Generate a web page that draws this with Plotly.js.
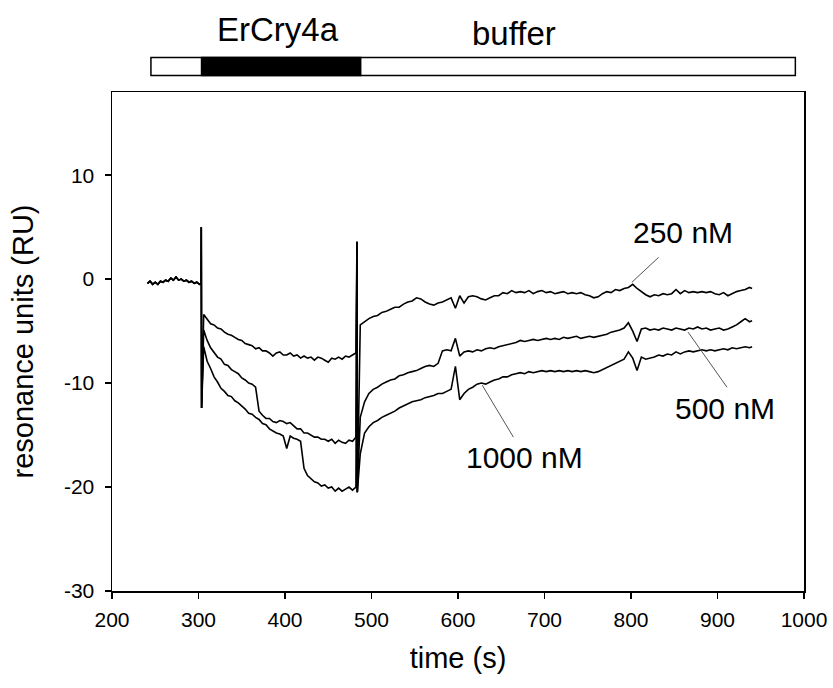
<!DOCTYPE html>
<html>
<head>
<meta charset="utf-8">
<script src="https://cdn.plot.ly/plotly-3.0.1.min.js"></script>
<style>html,body{margin:0;padding:0;background:#fff}#chart{width:833px;height:688px}</style>
</head>
<body>
<div id="chart"></div>
<script>
// ---- baseline before injection (shared by all three runs) ----
const tBase = [241,244,247,250,253,256,259,262,265,268,271,274,277,280,283,286,289,292,295,298,301,303];
const ruBase = [-0.4,-0.2,-0.5,-0.3,-0.5,-0.2,-0.3,-0.1,-0.2,0.1,-0.1,0.2,-0.1,0.0,-0.2,-0.1,-0.3,-0.2,-0.4,-0.3,-0.5,-0.4];

// injection artefact (start of ErCry4a) and rinse artefact (start of buffer)
const tInject = [303.2, 303.6];
const ruInject = [5.0, -12.4];
const tRinse = [483.2, 483.6];
const ruRinse = [3.6, -20.5];

// ---- association phase ----
const tAssoc = [306,310,314,318,322,326,330,334,338,342,346,350,354,358,362,366,370,374,378,382,386,390,394,398,402,406,410,414,418,422,426,430,434,438,442,446,450,454,458,462,466,470,474,478,482];
const ru250Assoc = [-3.4,-3.9,-4.3,-4.4,-4.7,-4.8,-5.1,-5.3,-5.4,-5.6,-5.8,-5.9,-6.2,-6.3,-6.4,-6.7,-6.6,-6.9,-6.9,-7.1,-7.4,-7.1,-7.0,-7.3,-7.3,-7.1,-7.4,-7.3,-7.6,-7.4,-7.6,-7.5,-7.8,-7.5,-7.6,-7.8,-8.0,-7.6,-7.7,-7.5,-7.7,-7.4,-7.5,-7.3,-7.1];
const ru500Assoc = [-4.9,-5.9,-6.6,-7.1,-7.5,-7.7,-8.2,-8.3,-8.7,-8.9,-9.1,-9.5,-9.7,-10.0,-10.1,-10.4,-12.7,-13.1,-13.4,-13.4,-13.7,-13.8,-13.6,-13.7,-13.9,-13.8,-14.1,-14.4,-14.4,-14.8,-14.8,-15.0,-15.2,-15.2,-15.4,-15.4,-15.6,-15.4,-15.8,-15.5,-15.7,-15.8,-15.5,-15.6,-15.2];
const ru1000Assoc = [-6.5,-7.9,-8.6,-9.4,-9.9,-10.5,-10.8,-11.2,-11.3,-11.7,-11.9,-12.2,-12.5,-12.9,-13.0,-13.3,-13.5,-13.9,-14.0,-14.4,-14.6,-14.8,-14.9,-15.1,-16.3,-15.1,-15.3,-15.4,-15.6,-18.2,-18.9,-19.2,-19.5,-19.6,-19.9,-19.8,-20.1,-20.0,-20.4,-20.1,-20.4,-20.2,-20.0,-20.3,-20.0];

// ---- dissociation phase (buffer) ----
const tDiss = [487,492,497,502,507,512,517,522,527,532,537,542,547,552,557,562,567,572,577,582,587,592,597,602,607,612,617,622,627,632,637,642,647,652,657,662,667,672,677,682,687,692,697,702,707,712,717,722,727,732,737,742,747,752,757,762,767,772,777,782,787,792,797,802,807,812,817,822,827,832,837,842,847,852,857,862,867,872,877,882,887,892,897,902,907,912,917,922,927,932,937,940];
const ru250Diss = [-4.4,-4.1,-3.8,-3.6,-3.5,-3.2,-3.1,-2.9,-2.7,-2.7,-2.4,-2.2,-2.1,-1.8,-1.9,-2.2,-2.4,-2.5,-2.3,-2.2,-2.0,-1.8,-2.8,-1.6,-2.3,-1.7,-1.6,-1.7,-1.9,-2.0,-1.8,-1.6,-1.6,-1.3,-1.4,-1.1,-1.3,-1.2,-1.3,-1.1,-1.4,-1.2,-1.1,-1.3,-1.2,-1.4,-1.3,-1.2,-1.4,-1.3,-1.4,-1.3,-1.5,-1.6,-1.8,-1.7,-1.4,-1.2,-1.3,-1.0,-1.1,-0.9,-0.8,-0.5,-0.9,-1.2,-1.5,-1.7,-1.5,-1.6,-1.4,-1.5,-1.4,-1.0,-1.4,-1.1,-1.3,-1.2,-1.3,-1.2,-1.3,-1.2,-1.4,-1.5,-1.3,-1.6,-1.4,-1.2,-1.1,-1.0,-0.8,-0.9];
const ru500Diss = [-13.3,-11.8,-11.0,-10.6,-10.4,-10.1,-9.9,-9.7,-9.6,-9.3,-9.2,-9.0,-8.9,-8.8,-8.6,-8.4,-8.3,-8.4,-8.1,-6.9,-6.8,-6.9,-5.7,-7.4,-7.0,-6.9,-7.0,-6.8,-6.9,-6.7,-6.6,-6.7,-6.5,-6.4,-6.3,-6.2,-6.1,-5.9,-6.0,-5.9,-5.8,-5.9,-5.8,-5.7,-5.8,-5.7,-5.8,-5.6,-5.7,-5.6,-5.5,-5.7,-5.6,-5.5,-5.6,-5.5,-5.4,-5.3,-5.1,-5.0,-4.9,-4.7,-4.2,-5.0,-6.0,-4.8,-4.7,-4.9,-4.8,-4.9,-4.7,-4.8,-4.9,-4.7,-4.8,-4.9,-4.7,-4.8,-4.6,-4.8,-4.7,-4.9,-4.8,-4.7,-4.9,-4.8,-4.6,-4.4,-4.1,-3.8,-4.1,-4.0];
const ru1000Diss = [-16.8,-14.8,-14.2,-13.8,-13.6,-13.3,-13.1,-12.9,-12.7,-12.4,-12.2,-12.0,-11.8,-11.7,-11.6,-11.4,-11.3,-11.2,-11.0,-11.0,-10.8,-10.6,-8.4,-11.6,-11.0,-10.6,-10.4,-10.1,-10.0,-10.1,-9.9,-9.7,-9.6,-9.4,-9.4,-9.2,-9.1,-9.0,-9.1,-8.9,-9.0,-8.9,-8.8,-8.9,-8.8,-8.9,-8.8,-8.9,-8.8,-8.9,-8.8,-8.9,-8.8,-8.9,-9.0,-8.9,-8.7,-8.5,-8.3,-8.1,-7.9,-7.7,-7.0,-7.6,-8.8,-7.5,-7.7,-7.6,-7.5,-7.3,-7.4,-7.2,-7.3,-7.0,-7.2,-7.0,-6.9,-7.0,-6.9,-6.8,-6.9,-6.8,-6.9,-6.8,-6.7,-6.8,-6.6,-6.7,-6.6,-6.5,-6.6,-6.5];

// ---- axis ticks ----
const xTicks = [200,300,400,500,600,700,800,900,1000];
const yTicks = [-30,-20,-10,0,10];

// ---- phase bar (time boundaries) ----
const phaseNames = ['ErCry4a', 'buffer'];
const runStart = 245, injStart = 303.5, injEnd = 487.5, runEnd = 990;

// ---- curve labels ----
const concLabels = ['250 nM', '500 nM', '1000 nM'];

const FONT = 'Arial, "Liberation Sans", sans-serif';

function series(assoc, diss) {
  return {
    x: tBase.concat(tInject, tAssoc, tRinse, tDiss),
    y: ruBase.concat(ruInject, assoc, ruRinse, diss),
    type: 'scatter', mode: 'lines',
    line: {color: '#000', width: 1.6},
    hoverinfo: 'skip', showlegend: false
  };
}

const data = [
  series(ru250Assoc, ru250Diss),
  series(ru500Assoc, ru500Diss),
  series(ru1000Assoc, ru1000Diss)
];

// label text position and the curve point its leader line touches
const labelPos = [
  {tx: 860, ty: 4.5, lx0: 832, ly0: 2.1, lx1: 801, ly1: -0.3},
  {tx: 909, ty: -12.4, lx0: 911, ly0: -10.4, lx1: 866, ly1: -5.1},
  {tx: 677, ty: -17.2, lx0: 664, ly0: -15.2, lx1: 628, ly1: -10.2}
];

const annotations = concLabels.map((t, i) => ({
  text: t, x: labelPos[i].tx, y: labelPos[i].ty, xref: 'x', yref: 'y',
  showarrow: false, font: {family: FONT, size: 30, color: '#000'},
  xanchor: 'center', yanchor: 'middle'
}));
annotations.push({
  text: phaseNames[0], x: (injStart + injEnd) / 2 - 4, y: 1.126, xref: 'x', yref: 'paper',
  showarrow: false, font: {family: FONT, size: 33, color: '#000'}, xanchor: 'center', yanchor: 'middle'
});
annotations.push({
  text: phaseNames[1], x: 665, y: 1.118, xref: 'x', yref: 'paper',
  showarrow: false, font: {family: FONT, size: 33, color: '#000'}, xanchor: 'center', yanchor: 'middle'
});

const shapes = labelPos.map(p => ({
  type: 'line', xref: 'x', yref: 'y', x0: p.lx0, y0: p.ly0, x1: p.lx1, y1: p.ly1,
  line: {color: '#555', width: 1}
}));
shapes.push({type: 'rect', xref: 'x', yref: 'paper', x0: runStart, x1: runEnd, y0: 1.033, y1: 1.069,
  fillcolor: '#fff', line: {color: '#000', width: 1.5}});
shapes.push({type: 'rect', xref: 'x', yref: 'paper', x0: injStart, x1: injEnd, y0: 1.033, y1: 1.069,
  fillcolor: '#000', line: {color: '#000', width: 1.5}});

const layout = {
  width: 833, height: 688,
  margin: {l: 112, r: 29, t: 92, b: 97},
  paper_bgcolor: '#fff', plot_bgcolor: '#fff',
  font: {family: FONT, color: '#000'},
  showlegend: false,
  xaxis: {
    range: [200, 1000], tickvals: xTicks, ticktext: xTicks.map(String),
    ticks: 'outside', ticklen: 6, tickwidth: 1.5, tickcolor: '#000',
    showline: true, linecolor: '#000', linewidth: 1.5, mirror: true,
    showgrid: false, zeroline: false, ticklabelstandoff: 3,
    tickfont: {family: FONT, size: 21, color: '#000'},
    title: {text: 'time (s)', font: {family: FONT, size: 29, color: '#000'}, standoff: 18}
  },
  yaxis: {
    range: [-30, 18], tickvals: yTicks, ticktext: yTicks.map(String),
    ticks: 'outside', ticklen: 6, tickwidth: 1.5, tickcolor: '#000',
    showline: true, linecolor: '#000', linewidth: 1.5, mirror: true,
    showgrid: false, zeroline: false, ticklabelstandoff: 6,
    tickfont: {family: FONT, size: 21, color: '#000'},
    title: {text: 'resonance units (RU)', font: {family: FONT, size: 29, color: '#000'}, standoff: 22}
  },
  annotations: annotations,
  shapes: shapes
};

Plotly.newPlot('chart', data, layout, {staticPlot: true, displayModeBar: false});
</script>
</body>
</html>
